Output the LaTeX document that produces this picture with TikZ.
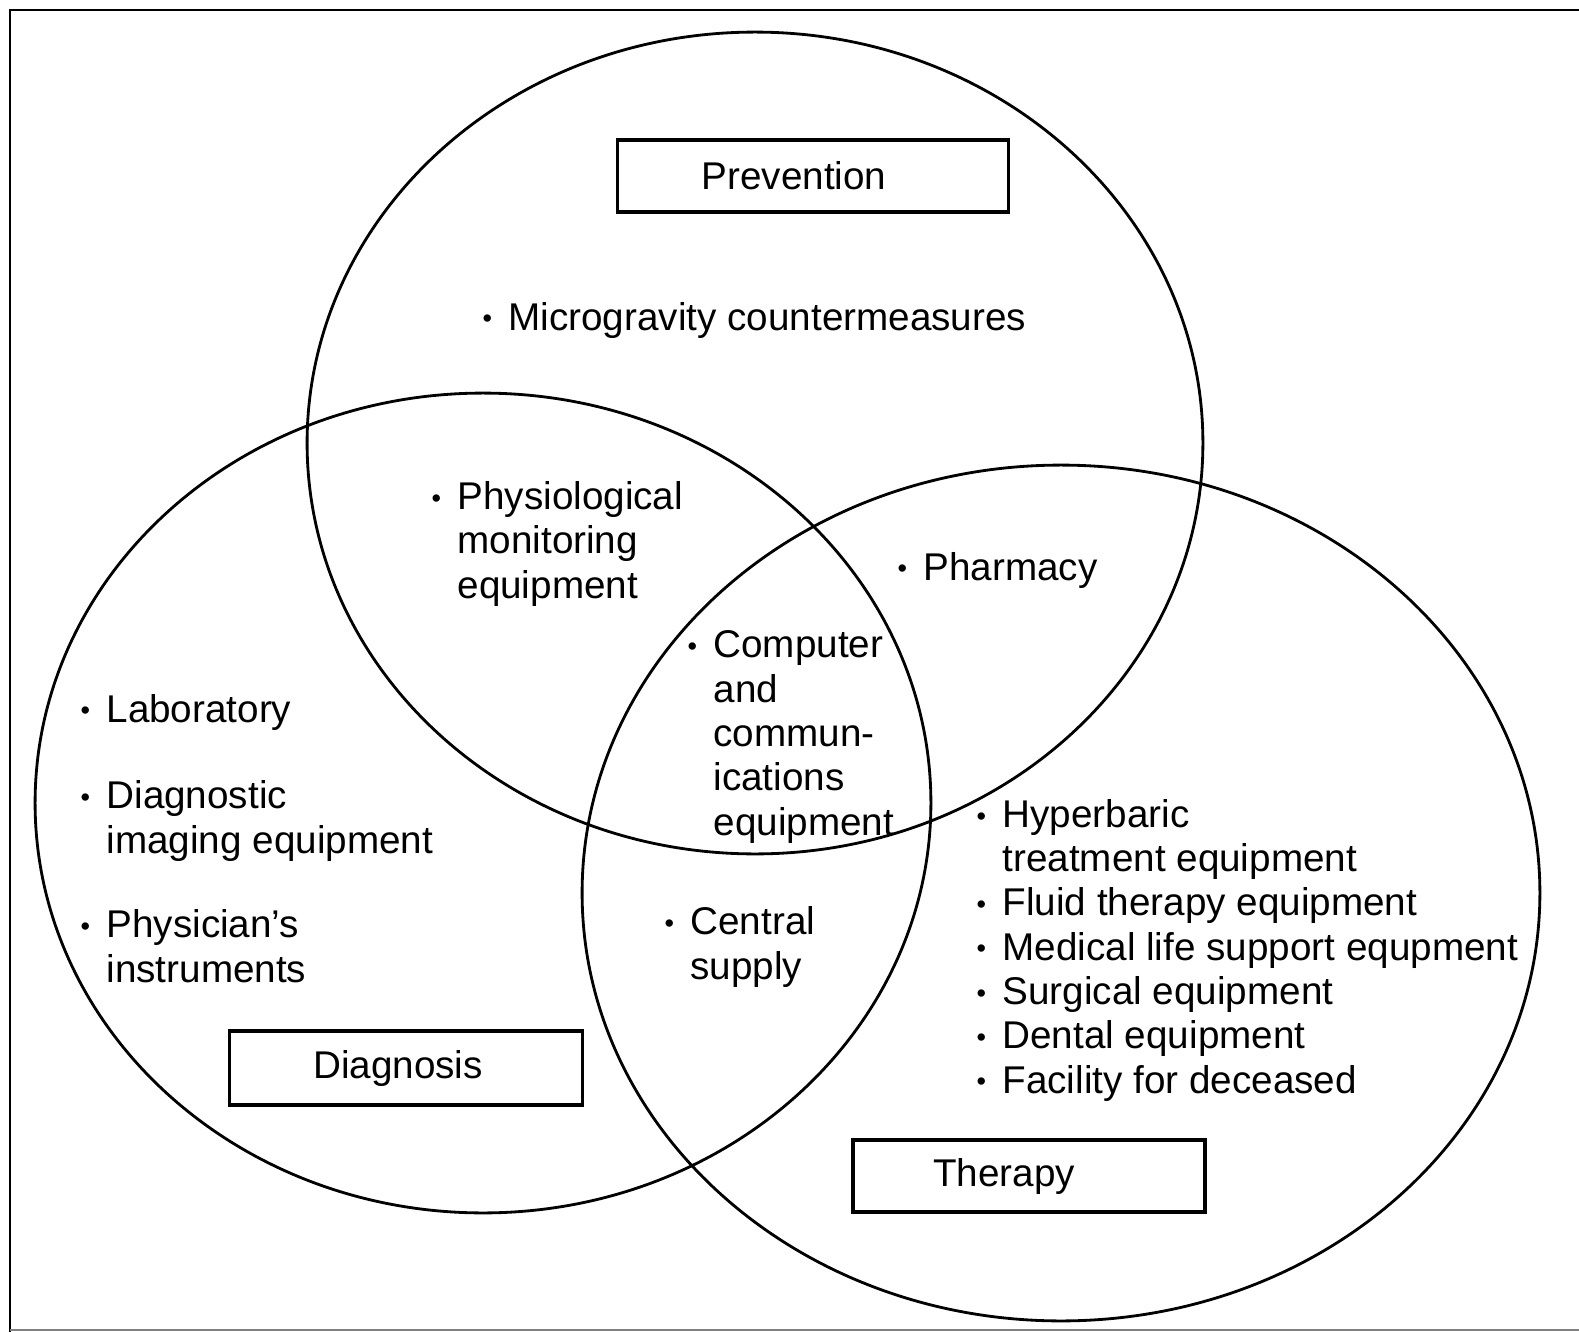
\documentclass[tikz,border=0pt]{standalone}
\usepackage{fontspec}
\setmainfont{Liberation Sans}
\usetikzlibrary{positioning}

\newcommand{\bulletpt}{\makebox[0.52cm][l]{\raisebox{0.06em}{\scalebox{0.7}{\textbullet}}}}
\newcommand{\contpt}{\hspace*{0.52cm}}

\begin{document}
\begin{tikzpicture}[x=0.02cm,y=-0.02cm,semithick]
	\tikzstyle{area}=[line width=1.6pt]
	\tikzstyle{title}=[draw, line width=1.8pt, inner sep=0pt, minimum height=1.44cm, font=\fontsize{22}{25}\selectfont]
	\tikzstyle{item}=[anchor=base west, inner sep=0pt, align=left, font=\fontsize{22}{25.2}\selectfont]

	\useasboundingbox (0,0) rectangle (1579,1332);
	% frame
	\draw[line width=1.6pt] (10,1332) -- (10,10) -- (1579,10);
	\draw[gray, line width=1.2pt] (10,1330) -- (1579,1330);

	% the three areas
	\draw[area] (755,443) ellipse [x radius=8.96cm, y radius=8.22cm];
	\draw[area] (483,803) ellipse [x radius=8.96cm, y radius=8.2cm];
	\draw[area] (1061,893) ellipse [x radius=9.58cm, y radius=8.56cm];

	\node[title, minimum width=7.82cm] (prev) at (813,176) {Prevention\hspace*{0.76cm}};
	\node[title, minimum width=7.06cm, minimum height=1.48cm] (diagn) at (406,1068) {Diagnosis\hspace*{0.32cm}};
	\node[title, minimum width=7.04cm] (ther) at (1029,1176) {Therapy\hspace*{1cm}};

	% items (base = last line)
	\node[item] (micro) at (482,330) {\bulletpt Microgravity countermeasures};
	\node[item] (physio) at (431,598) {\bulletpt Physiological\\\contpt monitoring\\\contpt equipment};
	\node[item] (pharm) at (897,580) {\bulletpt Pharmacy};
	\node[item] (comp) at (687,835) {\bulletpt Computer\\\contpt and\\\contpt commun-\\\contpt ications\\\contpt equipment};
	\node[item] (lab) at (80,722) {\bulletpt Laboratory};
	\node[item] (imaging) at (80,853) {\bulletpt Diagnostic\\\contpt imaging equipment};
	\node[item] (instr) at (80,982) {\bulletpt Physician's\\\contpt instruments};
	\node[item] (supply) at (664,979) {\bulletpt Central\\\contpt supply};
	\node[item] (hyper) at (976,1093) {\bulletpt Hyperbaric\\\contpt treatment equipment\\\bulletpt Fluid therapy equipment\\\bulletpt Medical life support equpment\\\bulletpt Surgical equipment\\\bulletpt Dental equipment\\\bulletpt Facility for deceased};
\end{tikzpicture}
\end{document}
